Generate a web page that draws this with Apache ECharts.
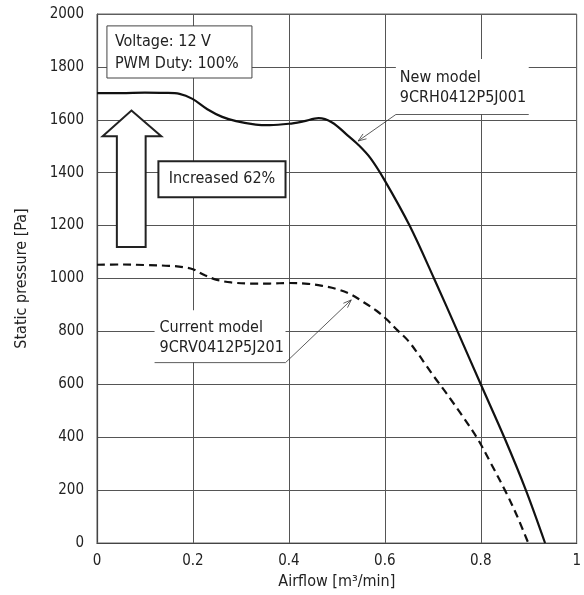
<!DOCTYPE html>
<html><head><meta charset="utf-8">
<script src="https://cdn.jsdelivr.net/npm/echarts@6/dist/echarts.min.js"></script>
<style>html,body{margin:0;padding:0;background:#fff}#c{width:584px;height:595px}</style>
</head><body><div id="c"></div>
<script>
const FONT = '"Liberation Sans Narrow","DejaVu Sans Condensed",sans-serif';
const xTicks = ['0','0.2','0.4','0.6','0.8','1'];
const yTicks = [0,200,400,600,800,1000,1200,1400,1600,1800,2000];
const newModelX = [0,0.05,0.1,0.14,0.172,0.199,0.23,0.261,0.29,0.331,0.36,0.4,0.43,0.462,0.49,0.52,0.545,0.57,0.6,0.6516,0.7026,0.7516,0.8,0.85,0.894,0.934];
const newModelY = [1701,1701,1703,1702,1698,1679,1640,1611,1595,1582,1580,1585,1594,1606,1590,1545,1505,1455,1370,1200,1000,800,600,395,200,0];
const curModelX = [0,0.05,0.1,0.15,0.18,0.2,0.225,0.25,0.28,0.32,0.36,0.4,0.44,0.47,0.5,0.527,0.551,0.582,0.603,0.627,0.648,0.669,0.686,0.703,0.724,0.741,0.762,0.793,0.82,0.853,0.875,0.899];
const curModelY = [1052,1053,1051,1048,1043,1035,1012,995,985,981,981,983,980,972,960,942,916,879,847,803,766,716,672,628,577,534,480,395,305,190,105,0];
const labels = {
  condition: 'Voltage: 12 V\nPWM Duty: 100%',
  increase: 'Increased 62%',
  newModel: 'New model\n9CRH0412P5J001',
  curModel: 'Current model\n9CRV0412P5J201'
};

const chart = echarts.init(document.getElementById('c'));
const pair = (xs, ys) => xs.map((x, i) => [x, ys[i]]);
chart.setOption({
  animation: false,
  grid: {left: 97, right: 4, top: 14, bottom: 50, containLabel: false},
  xAxis: {
    type: 'value', min: 0, max: 1, interval: 0.2,
    name: 'Airflow [m³/min]', nameLocation: 'middle', nameGap: 31,
    nameTextStyle: {fontFamily: FONT, fontSize: 16, color: '#222'},
    axisLine: {lineStyle: {color: '#222', width: 1.2}},
    axisTick: {show: false},
    axisLabel: {fontFamily: FONT, fontSize: 15, color: '#222', margin: 11,
      formatter: v => xTicks[Math.round(v / 0.2)]},
    splitLine: {lineStyle: {color: '#555', width: 1}}
  },
  yAxis: {
    type: 'value', min: 0, max: 2000, interval: 200,
    name: 'Static pressure [Pa]', nameLocation: 'middle', nameGap: 67,
    nameTextStyle: {fontFamily: FONT, fontSize: 16, color: '#222'},
    axisLine: {show: true, lineStyle: {color: '#222', width: 1.2}},
    axisTick: {show: false},
    axisLabel: {fontFamily: FONT, fontSize: 15, color: '#222', margin: 13,
      formatter: v => String(yTicks[Math.round(v / 200)])},
    splitLine: {lineStyle: {color: '#555', width: 1}}
  },
  series: [
    {type: 'line', data: pair(newModelX, newModelY), smooth: 0.35, showSymbol: false,
      lineStyle: {color: '#111', width: 2.2}, z: 5},
    {type: 'line', data: pair(curModelX, curModelY), smooth: 0.35, showSymbol: false,
      lineStyle: {color: '#111', width: 2.2, type: [8, 5]}, z: 5}
  ]
});

function P(x, y) { return chart.convertToPixel({gridIndex: 0}, [x, y]); }
const g = [];
const tl = P(0, 2000), br = P(1, 0);
g.push({type: 'rect', shape: {x: tl[0], y: tl[1], width: br[0] - tl[0], height: br[1] - tl[1]},
  style: {fill: null, stroke: '#666', lineWidth: 1}, z: 1});
// condition box
const c1 = P(0.0207, 1955), c2 = P(0.323, 1758);
g.push({type: 'rect', shape: {x: c1[0], y: c1[1], width: c2[0] - c1[0], height: c2[1] - c1[1]},
  style: {fill: '#fff', stroke: '#444', lineWidth: 1}, z: 10});
g.push({type: 'text', x: c1[0] + 8, y: (c1[1] + c2[1]) / 2 + 1,
  style: {text: labels.condition, fontFamily: FONT, fontSize: 16, fill: '#222', verticalAlign: 'middle', lineHeight: 22}, z: 11});
// big hollow arrow
const aTip = P(0.0718, 1635), aHL = P(0.0118, 1538), aHR = P(0.134, 1538);
const aSL = P(0.0414, 1538), aSR = P(0.1014, 1538), aBL = P(0.0414, 1119), aBR = P(0.1014, 1119);
g.push({type: 'polygon', shape: {points: [aTip, aHR, aSR, aBR, aBL, aSL, aHL]},
  style: {fill: '#fff', stroke: '#222', lineWidth: 2}, z: 10});
// increased box
const i1 = P(0.128, 1443), i2 = P(0.393, 1307);
g.push({type: 'rect', shape: {x: i1[0], y: i1[1], width: i2[0] - i1[0], height: i2[1] - i1[1]},
  style: {fill: '#fff', stroke: '#222', lineWidth: 2}, z: 10});
g.push({type: 'text', x: (i1[0] + i2[0]) / 2, y: (i1[1] + i2[1]) / 2,
  style: {text: labels.increase, fontFamily: FONT, fontSize: 16, fill: '#222', align: 'center', verticalAlign: 'middle'}, z: 11});
// new model label
const n1 = P(0.623, 1830), n2 = P(0.9, 1620);
g.push({type: 'rect', shape: {x: n1[0], y: n1[1], width: n2[0] - n1[0], height: n2[1] - n1[1]},
  style: {fill: '#fff'}, z: 9});
g.push({type: 'text', x: n1[0] + 4, y: (n1[1] + n2[1]) / 2 + 1,
  style: {text: labels.newModel, fontFamily: FONT, fontSize: 16, fill: '#222', verticalAlign: 'middle', lineHeight: 20}, z: 11});
const nU1 = P(0.623, 1620), nU2 = P(0.9, 1620), nA = P(0.5445, 1520);
g.push({type: 'polyline', shape: {points: [nU2, nU1, nA]}, style: {stroke: '#333', lineWidth: 0.8, fill: null}, z: 11});
// current model label
const m1 = P(0.12, 880), m2 = P(0.393, 682);
g.push({type: 'rect', shape: {x: m1[0], y: m1[1], width: m2[0] - m1[0], height: m2[1] - m1[1]},
  style: {fill: '#fff'}, z: 9});
g.push({type: 'text', x: m1[0] + 5, y: (m1[1] + m2[1]) / 2 + 1,
  style: {text: labels.curModel, fontFamily: FONT, fontSize: 16, fill: '#222', verticalAlign: 'middle', lineHeight: 20}, z: 11});
const mU1 = P(0.12, 682), mU2 = P(0.393, 682), mA = P(0.53, 919);
g.push({type: 'polyline', shape: {points: [mU1, mU2, mA]}, style: {stroke: '#333', lineWidth: 0.8, fill: null}, z: 11});
function head(from, to) {
  const dx = to[0] - from[0], dy = to[1] - from[1], L = Math.hypot(dx, dy);
  const ux = dx / L, uy = dy / L, s = 8, w = 3;
  const b = [to[0] - ux * s, to[1] - uy * s];
  return {type: 'polyline', shape: {points: [[b[0] - uy * w, b[1] + ux * w], to, [b[0] + uy * w, b[1] - ux * w]]},
    style: {stroke: '#333', lineWidth: 0.8, fill: null}, z: 11};
}
g.push(head(nU1, nA));
g.push(head(mU2, mA));
chart.setOption({graphic: g});
</script></body></html>
